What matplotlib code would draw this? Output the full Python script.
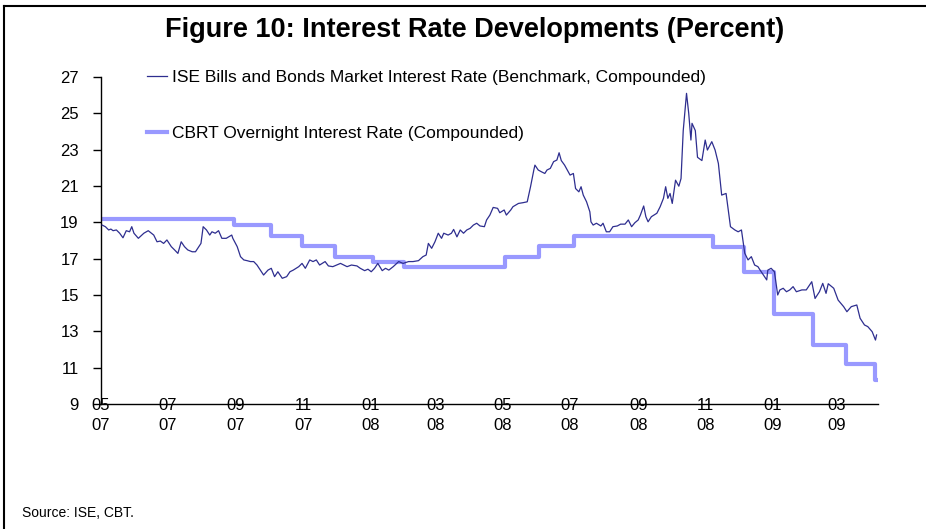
import matplotlib
matplotlib.use("Agg")
import pandas as pd
from matplotlib import pyplot as plt
from matplotlib.lines import Line2D

plt.rcParams["font.family"] = ["Liberation Sans", "DejaVu Sans"]

START = pd.Timestamp("2007-05-01")

# ISE benchmark rate: days since 2007-05-01 and rate (%)
ise_days = [
    1, 4, 7, 9, 11, 14, 17, 20, 23, 26,
    28, 30, 34, 39, 43, 48, 51, 54, 57, 60,
    64, 67, 70, 73, 76, 79, 83, 86, 89, 91,
    93, 96, 99, 101, 104, 107, 110, 114, 119, 120,
    124, 127, 130, 133, 136, 139, 142, 145, 148, 152,
    155, 158, 161, 165, 169, 172, 175, 180, 183, 186,
    190, 193, 196, 199, 204, 207, 211, 218, 224, 228,
    233, 236, 240, 243, 246, 249, 252, 256, 259, 262,
    266, 271, 275, 280, 284, 289, 293, 296, 298, 301,
    304, 307, 310, 312, 316, 319, 321, 324, 327, 330,
    333, 336, 339, 342, 345, 349, 351, 354, 357, 361,
    363, 367, 369, 373, 375, 380, 384, 388, 391, 394,
    395, 398, 401, 404, 406, 409, 412, 415, 417, 419,
    422, 427, 430, 432, 435, 437, 439, 442, 445, 446,
    448, 451, 455, 457, 460, 463, 466, 470, 473, 477,
    480, 483, 486, 489, 491, 494, 496, 498, 501, 506,
    509, 512, 514, 516, 518, 520, 523, 526, 528, 530,
    533, 535, 537, 538, 541, 543, 547, 550, 552, 556,
    559, 562, 565, 569, 573, 577, 580, 583, 586, 589,
    592, 595, 598, 600, 603, 606, 607, 610, 613, 616,
    618, 621, 624, 627, 630, 633, 638, 642, 647, 650,
    654, 657, 660, 662, 667, 671, 676, 679, 683, 688,
    691, 695, 698, 702, 705, 706,
]
ise_rate = [
    18.85, 18.76, 18.58, 18.63, 18.54, 18.58, 18.40, 18.15, 18.54, 18.48,
    18.76, 18.40, 18.12, 18.40, 18.54, 18.30, 17.93, 17.97, 17.84, 18.03,
    17.66, 17.48, 17.29, 17.93, 17.66, 17.48, 17.38, 17.38, 17.66, 17.84,
    18.76, 18.58, 18.30, 18.48, 18.40, 18.54, 18.12, 18.12, 18.30, 18.12,
    17.66, 17.11, 16.93, 16.89, 16.84, 16.84, 16.65, 16.37, 16.10, 16.37,
    16.47, 16.01, 16.28, 15.92, 16.01, 16.28, 16.37, 16.56, 16.74, 16.47,
    16.93, 16.84, 16.93, 16.65, 16.84, 16.60, 16.56, 16.74, 16.56, 16.65,
    16.60, 16.47, 16.34, 16.42, 16.28, 16.47, 16.74, 16.34, 16.47, 16.37,
    16.56, 16.84, 16.74, 16.84, 16.84, 16.89, 17.11, 17.20, 17.84, 17.57,
    17.93, 18.40, 18.12, 18.40, 18.30, 18.40, 18.61, 18.20, 18.58, 18.40,
    18.58, 18.67, 18.85, 18.95, 18.80, 18.76, 19.13, 19.40, 19.82, 19.77,
    19.53, 19.68, 19.40, 19.68, 19.86, 20.04, 20.08, 20.13, 20.96, 21.88,
    22.15, 21.88, 21.78, 21.69, 21.88, 21.97, 22.34, 22.43, 22.83, 22.40,
    22.15, 21.60, 21.69, 20.86, 20.68, 20.96, 20.50, 20.13, 19.58, 19.03,
    18.85, 18.95, 18.80, 18.95, 18.48, 18.48, 18.76, 18.80, 18.90, 18.90,
    19.13, 18.76, 18.98, 19.13, 19.40, 19.90, 19.31, 19.03, 19.31, 19.50,
    19.86, 20.32, 20.96, 20.32, 20.59, 20.04, 21.32, 20.99, 21.41, 24.05,
    26.10, 25.00, 23.53, 24.45, 24.05, 22.58, 22.40, 23.53, 22.98, 23.44,
    22.98, 22.24, 20.50, 20.59, 18.76, 18.58, 18.48, 18.58, 17.30, 16.93,
    17.11, 16.65, 16.56, 16.37, 16.10, 15.83, 16.37, 16.47, 16.28, 15.00,
    15.28, 15.37, 15.18, 15.28, 15.46, 15.18, 15.28, 15.28, 15.73, 14.81,
    15.18, 15.64, 15.09, 15.62, 15.37, 14.72, 14.36, 14.08, 14.36, 14.45,
    13.72, 13.35, 13.26, 12.98, 12.52, 12.80,
]

# CBRT overnight rate: day of each change and the new level
cbrt_days = [0, 121, 155, 183, 213, 248, 276, 368, 399, 431, 557, 585, 613, 648, 678, 705]
cbrt_rate = [19.17, 18.85, 18.26, 17.68, 17.10, 16.80, 16.54, 17.10, 17.68, 18.26,
             17.66, 16.26, 13.95, 12.25, 11.18, 10.30]
cbrt_end_day = 706

y_ticks = [9, 11, 13, 15, 17, 19, 21, 23, 25, 27]
x_ticks = pd.date_range("2007-05-01", "2009-03-01", freq="2MS")

ISE_LABEL = "ISE Bills and Bonds Market Interest Rate (Benchmark, Compounded)"
CBRT_LABEL = "CBRT Overnight Interest Rate (Compounded)"


def main() -> None:
    fig = plt.figure(figsize=(9.26, 5.29), dpi=100)
    ax = fig.add_axes([101 / 926, 125 / 529, 777 / 926, 327 / 529])

    ise_x = START + pd.to_timedelta(ise_days, unit="D")
    cbrt_x = START + pd.to_timedelta(cbrt_days + [cbrt_end_day], unit="D")
    cbrt_y = cbrt_rate + [cbrt_rate[-1]]

    ax.plot(ise_x, ise_rate, color="#2e2e8f", lw=0.9, label=ISE_LABEL, zorder=3)
    ax.plot(cbrt_x, cbrt_y, color="#9999ff", lw=3, drawstyle="steps-post",
            label=CBRT_LABEL, zorder=2)

    ax.set_xlim(START, START + pd.Timedelta(days=707.3))
    ax.set_ylim(9, 27)
    ax.set_yticks(y_ticks)
    ax.set_yticklabels([str(v) for v in y_ticks])
    ax.set_xticks(x_ticks)

    for side in ("top", "right"):
        ax.spines[side].set_visible(False)
    for side in ("left", "bottom"):
        ax.spines[side].set_linewidth(1)
        ax.spines[side].set_color("black")

    ax.tick_params(axis="y", length=6, width=1, pad=10, labelsize=12)
    ax.tick_params(axis="x", length=0, pad=-4.5, labelsize=12)
    ax.set_xticklabels([d.strftime("%m\n%y") for d in x_ticks], linespacing=1.4)

    ax.legend(
        loc="upper left",
        bbox_to_anchor=(0.059, 1.022),
        frameon=False,
        fontsize=12.5,
        borderpad=0,
        borderaxespad=0,
        handlelength=1.15,
        handletextpad=0.29,
        labelspacing=2.35,
    )

    fig.text(475 / 926, 1 - 30 / 529, "Figure 10: Interest Rate Developments (Percent)",
             ha="center", va="center", fontsize=19.5, fontweight="bold")
    fig.text(22 / 926, 1 - 513 / 529, "Source: ISE, CBT.", ha="left", va="center",
             fontsize=10)

    # frame pieces visible at the top and left edge
    fig.add_artist(Line2D([4 / 926, 1], [1 - 6 / 529, 1 - 6 / 529],
                          transform=fig.transFigure, color="black", lw=1.5))
    fig.add_artist(Line2D([4 / 926, 4 / 926], [0, 1 - 6 / 529],
                          transform=fig.transFigure, color="black", lw=1.5))

    fig.savefig("out.png", dpi=100)


if __name__ == "__main__":
    main()
